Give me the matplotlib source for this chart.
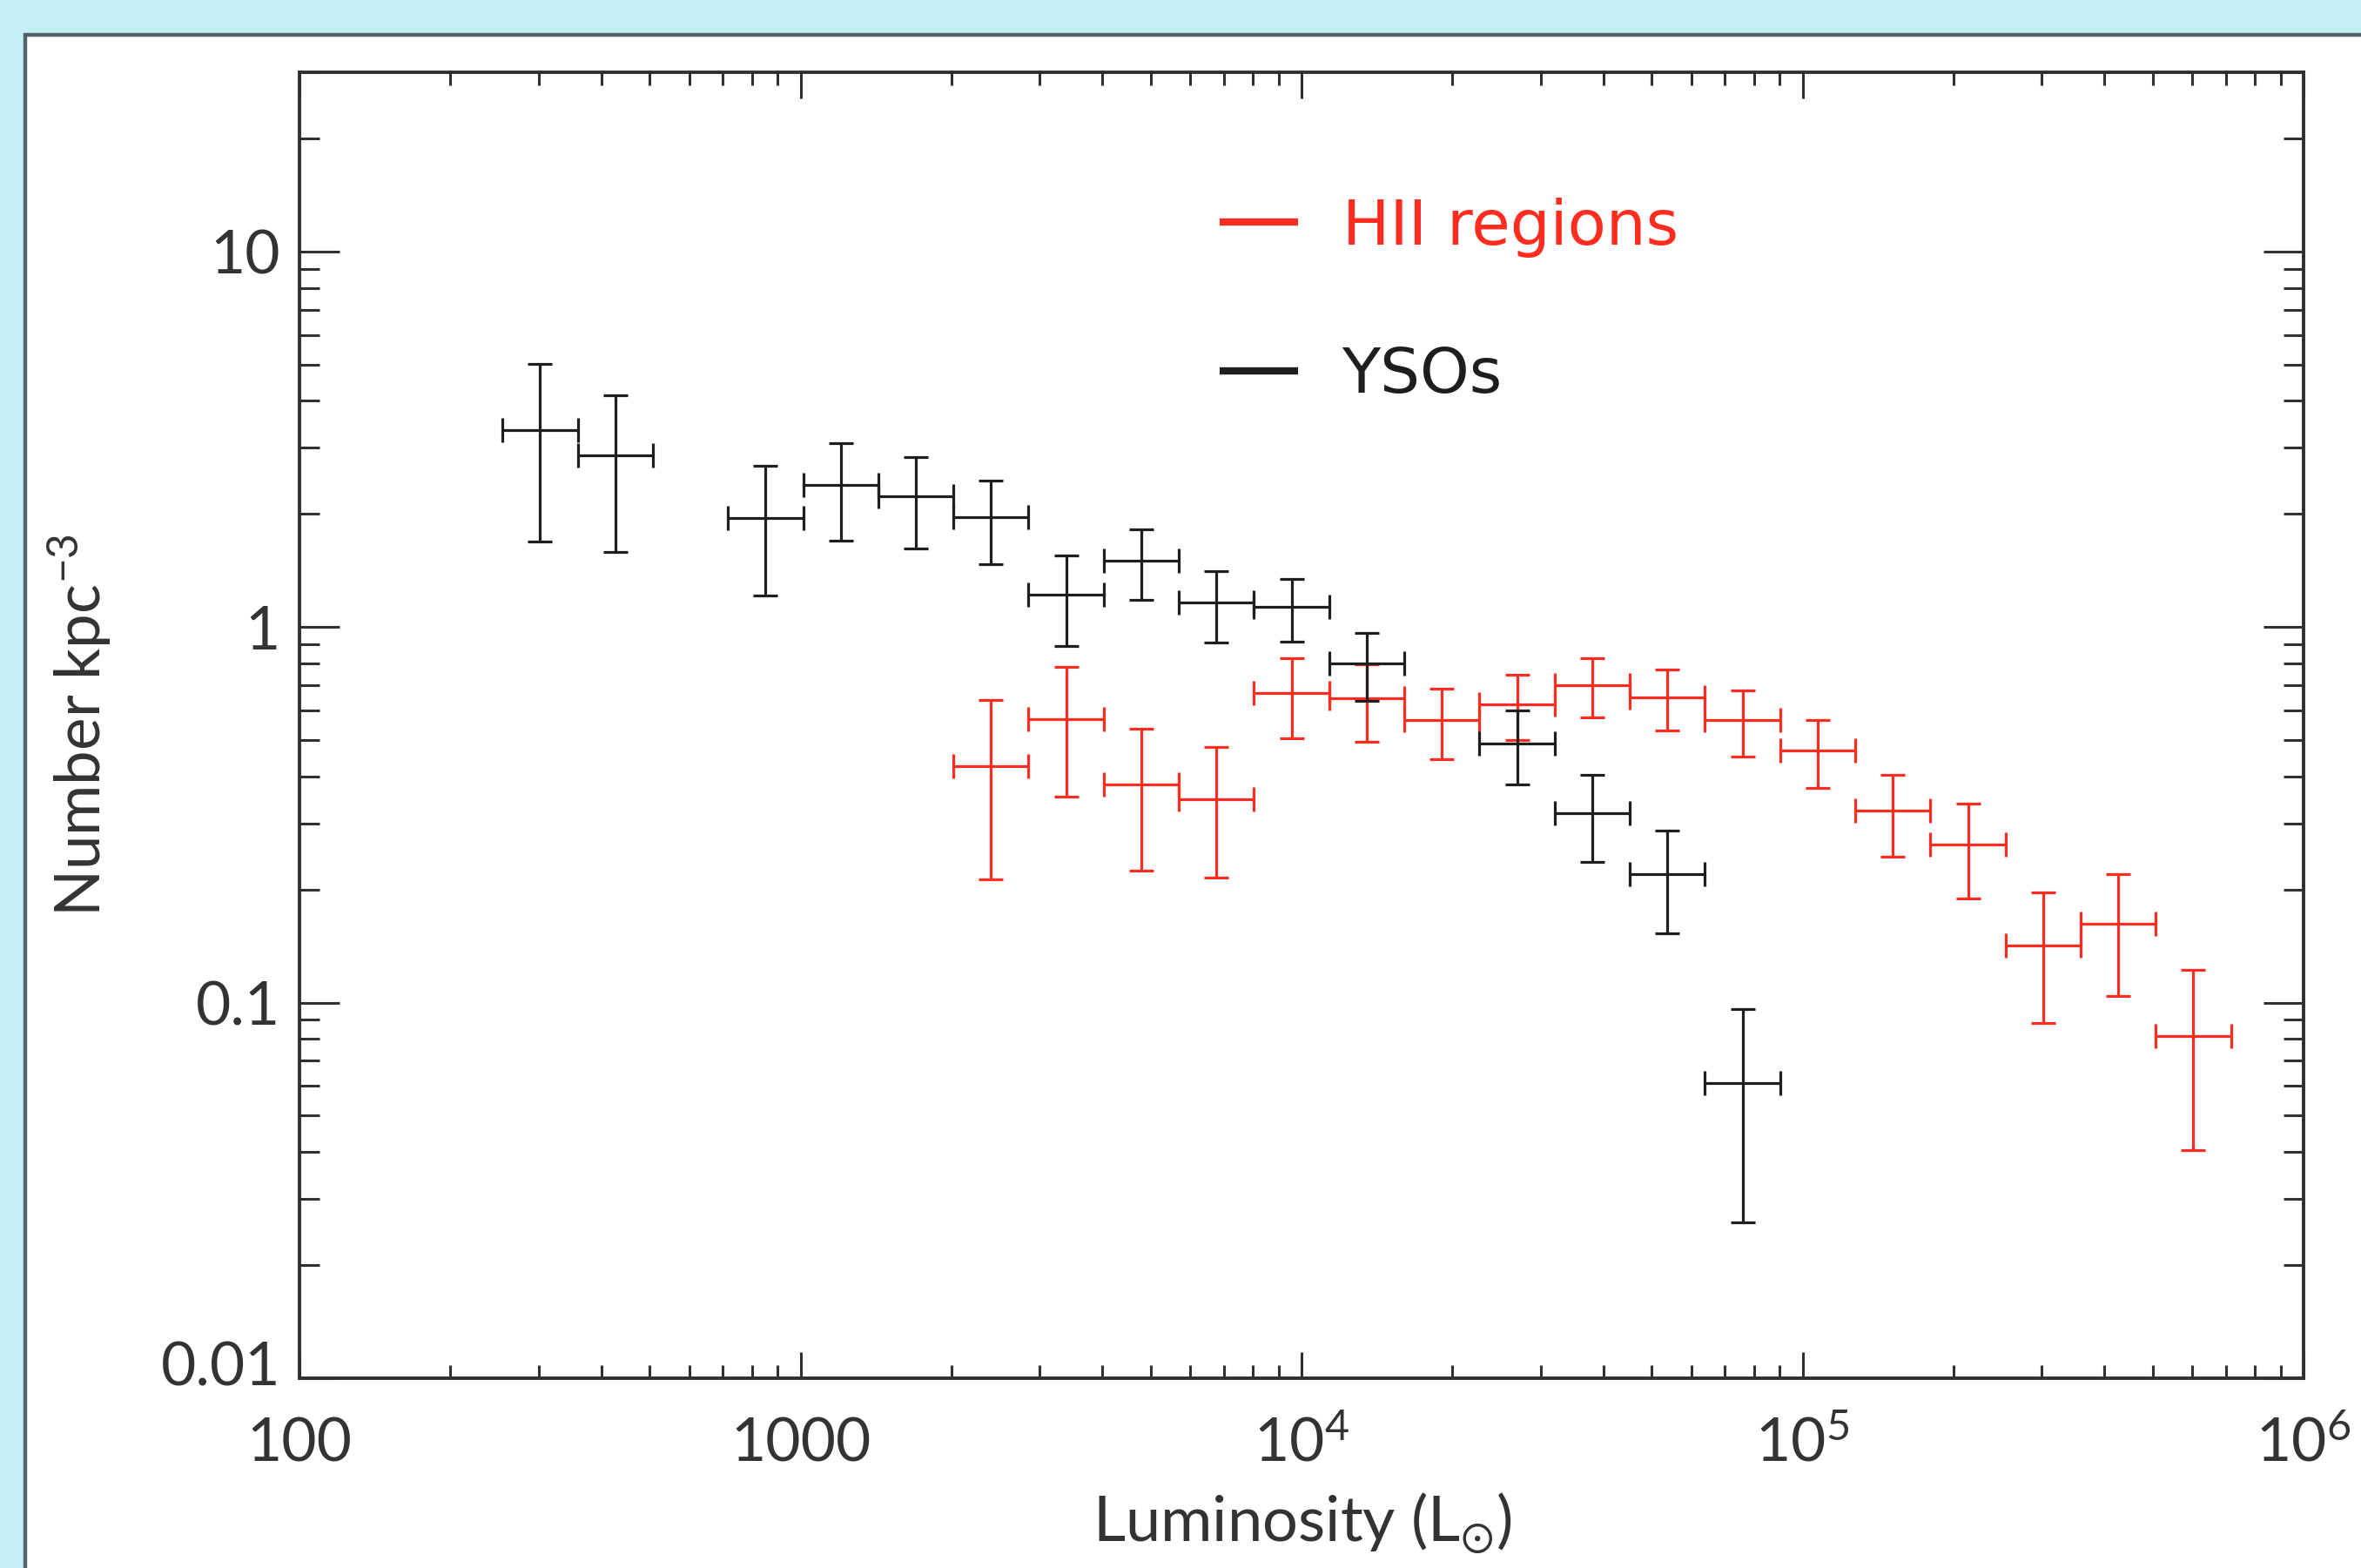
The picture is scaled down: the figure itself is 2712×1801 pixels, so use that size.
import matplotlib
matplotlib.use("Agg")
import matplotlib.pyplot as plt
from matplotlib.patches import Rectangle
from matplotlib.lines import Line2D
from matplotlib.ticker import LogLocator, NullFormatter
from matplotlib.transforms import ScaledTranslation
import numpy as np

plt.rcParams["font.family"] = ["Lato", "DejaVu Sans"]
plt.rcParams["mathtext.default"] = "regular"

BG = "#c4eff5"
RED = "#ff2d20"
INK = "#1e1e1e"
AXC = "#303030"
TXT = "#333333"

# ---------------- data (log10 L bin centres, bin half width in dex) ----------------
BIN_HALF = 0.075

yso_logL = [2.48, 2.63, 2.93, 3.08, 3.23, 3.38, 3.53, 3.68, 3.83, 3.98,
            4.13, 4.43, 4.58, 4.73, 4.88]
yso_n = [3.35, 2.86, 1.95, 2.39, 2.23, 1.96, 1.22, 1.50, 1.16, 1.13,
         0.80, 0.49, 0.32, 0.22, 0.061]
yso_err = [1.66, 1.28, 0.74, 0.69, 0.61, 0.49, 0.33, 0.32, 0.25, 0.215,
           0.165, 0.11, 0.083, 0.067, 0.035]

hii_logL = [3.38, 3.53, 3.68, 3.83, 3.98, 4.13, 4.28, 4.43, 4.58, 4.73,
            4.88, 5.03, 5.18, 5.33, 5.48, 5.63, 5.78]
hii_n = [0.427, 0.568, 0.38, 0.347, 0.666, 0.645, 0.564, 0.623, 0.699, 0.649,
         0.564, 0.469, 0.325, 0.264, 0.142, 0.162, 0.0815]
hii_err = [0.214, 0.214, 0.156, 0.132, 0.16, 0.15, 0.12, 0.123, 0.125, 0.12,
           0.113, 0.097, 0.08, 0.075, 0.054, 0.058, 0.041]

x_ticks = [1e2, 1e3, 1e4, 1e5, 1e6]
x_labels = ["100", "1000", "$10^4$", "$10^5$", "$10^6$"]
y_ticks = [0.01, 0.1, 1, 10]
y_labels = ["0.01", "0.1", "1", "10"]


fig = plt.figure(figsize=(13.56, 9.005), dpi=200, facecolor=BG)
# white panel with a dark edge on a cyan page
fig.patches.append(Rectangle((0.0107, -0.2), 1.3, 1.1778, transform=fig.transFigure,
                             fc="white", ec="#52626a", lw=1.6, zorder=-5))
ax = fig.add_axes([0.1269, 0.1211, 0.8488, 0.8328])


def draw(logL, n, err, color):
    lg = np.array(logL)
    L = 10 ** lg
    xlo = L - 10 ** (lg - BIN_HALF)
    xhi = 10 ** (lg + BIN_HALF) - L
    ax.errorbar(L, n, xerr=[xlo, xhi], yerr=err, fmt="none", ecolor=color,
                elinewidth=1.15, capsize=5, capthick=1.15)


draw(hii_logL, hii_n, hii_err, RED)
draw(yso_logL, yso_n, yso_err, INK)

ax.set_xscale("log"); ax.set_yscale("log")
ax.set_xlim(1e2, 1e6); ax.set_ylim(0.01, 30)
ax.set_xticks(x_ticks, x_labels)
ax.set_yticks(y_ticks, y_labels)
ax.xaxis.set_minor_locator(LogLocator(base=10, subs=range(2, 10), numticks=50))
ax.yaxis.set_minor_locator(LogLocator(base=10, subs=range(2, 10), numticks=50))
ax.xaxis.set_minor_formatter(NullFormatter())
ax.yaxis.set_minor_formatter(NullFormatter())

ax.tick_params(axis="x", which="major", direction="in", length=10.8, width=1.1,
               top=True, pad=16, labelsize=25, color=AXC, labelcolor=TXT)
ax.tick_params(axis="x", which="minor", direction="in", length=5.4, width=1.1,
               top=True, color=AXC)
ax.tick_params(axis="y", which="major", direction="in", length=16.5, width=1.1,
               right=True, pad=8, labelsize=25, color=AXC, labelcolor=TXT)
ax.tick_params(axis="y", which="minor", direction="in", length=8.3, width=1.1,
               right=True, color=AXC)
for s in ax.spines.values():
    s.set_color(AXC); s.set_linewidth(1.4)

# lift the lowest y label a little, clear of the x axis
lab0 = ax.get_yticklabels()[0]
lab0.set_transform(lab0.get_transform() + ScaledTranslation(0, 6 / 72, fig.dpi_scale_trans))

ax.set_xlabel(r"Luminosity (L$_{\odot}$)", fontsize=26, color=TXT)
ax.xaxis.set_label_coords(0.5, -0.086)
ax.set_ylabel(r"Number kpc$^{-3}$", fontsize=25.5, color=TXT)
ax.yaxis.set_label_coords(-0.093, 0.5)

handles = [Line2D([], [], color=RED, lw=3, solid_capstyle="butt"),
           Line2D([], [], color=INK, lw=3, solid_capstyle="butt")]
ax.legend(handles, ["HII regions", "YSOs"], loc="center left",
          bbox_to_anchor=(0.459, 0.8245), frameon=False, borderpad=0,
          borderaxespad=0, handlelength=1.25, handletextpad=0.7,
          labelspacing=1.4, labelcolor=[RED, INK],
          prop={"family": "DejaVu Sans", "size": 26})

fig.savefig("out.png", dpi=200, facecolor=fig.get_facecolor())
